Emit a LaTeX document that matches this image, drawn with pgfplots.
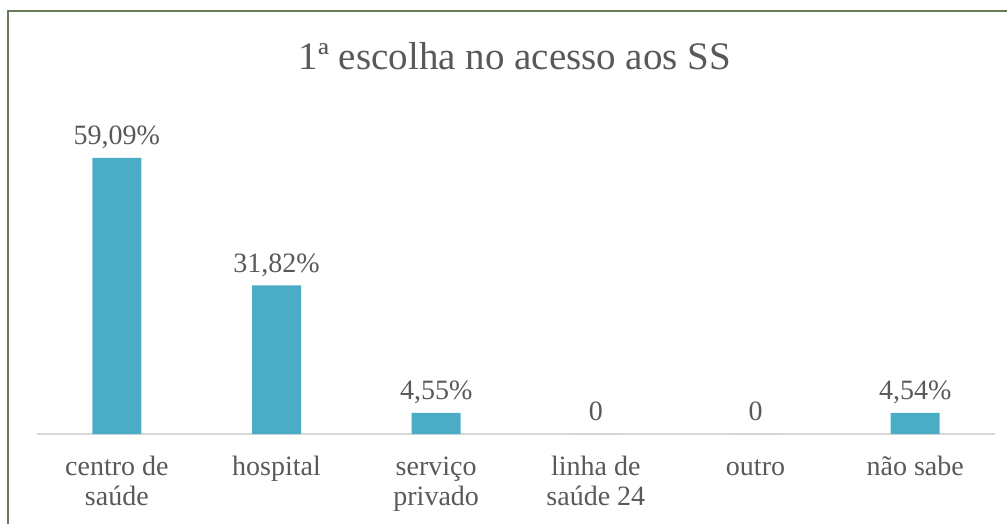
\documentclass[border=0pt]{standalone}
\usepackage{fontspec}
\setmainfont{Liberation Serif}
\usepackage{pgfplots}
\pgfplotsset{compat=1.18}
\definecolor{barc}{HTML}{4BACC6}
\definecolor{txt}{HTML}{595959}
\definecolor{framec}{RGB}{104,121,92}
\definecolor{axc}{HTML}{D9D9D9}
\begin{document}
\begin{tikzpicture}
\useasboundingbox (0,0) rectangle (1007pt,-523pt);
\begin{scope}
\clip (0,0) rectangle (1007pt,-523pt);
\draw[framec, line width=2pt] (8pt,-540pt) -- (8pt,-11pt) -- (1030pt,-11pt);
\end{scope}
\node[text=txt, font=\fontsize{39}{41}\selectfont, inner sep=0pt] at (515pt,-56pt) {1ª escolha no acesso aos SS};
\begin{axis}[
  at={(37pt,-434pt)}, anchor=south west,
  x=159.67pt, y=4.671pt,
  xmin=-0.5, xmax=5.5, ymin=0, ymax=62,
  axis x line*=bottom, axis y line=none,
  x axis line style={axc, line width=1.5pt, -},
  xtick={0,1,2,3,4,5},
  xticklabels={{\strut centro de\\saúde},{\strut hospital},{\strut serviço\\privado},{\strut linha de\\saúde 24},{\strut outro},{\strut não sabe}},
  major tick length=0pt,
  xticklabel style={align=center, text=txt, font=\fontsize{28}{30}\selectfont, yshift=-17pt},
  clip=false,
  ybar, bar width=49pt,
  nodes near coords={\strut\pgfplotspointmeta},
  point meta=explicit symbolic,
  every node near coord/.append style={text=txt, font=\fontsize{28}{30}\selectfont, inner sep=4pt},
]
\addplot[fill=barc, draw=none] coordinates {
  (0,59.09) [59,09\%]
  (1,31.82) [31,82\%]
  (2,4.55) [4,55\%]
  (3,0) [0]
  (4,0) [0]
  (5,4.54) [4,54\%]
};
\end{axis}
\end{tikzpicture}
\end{document}
